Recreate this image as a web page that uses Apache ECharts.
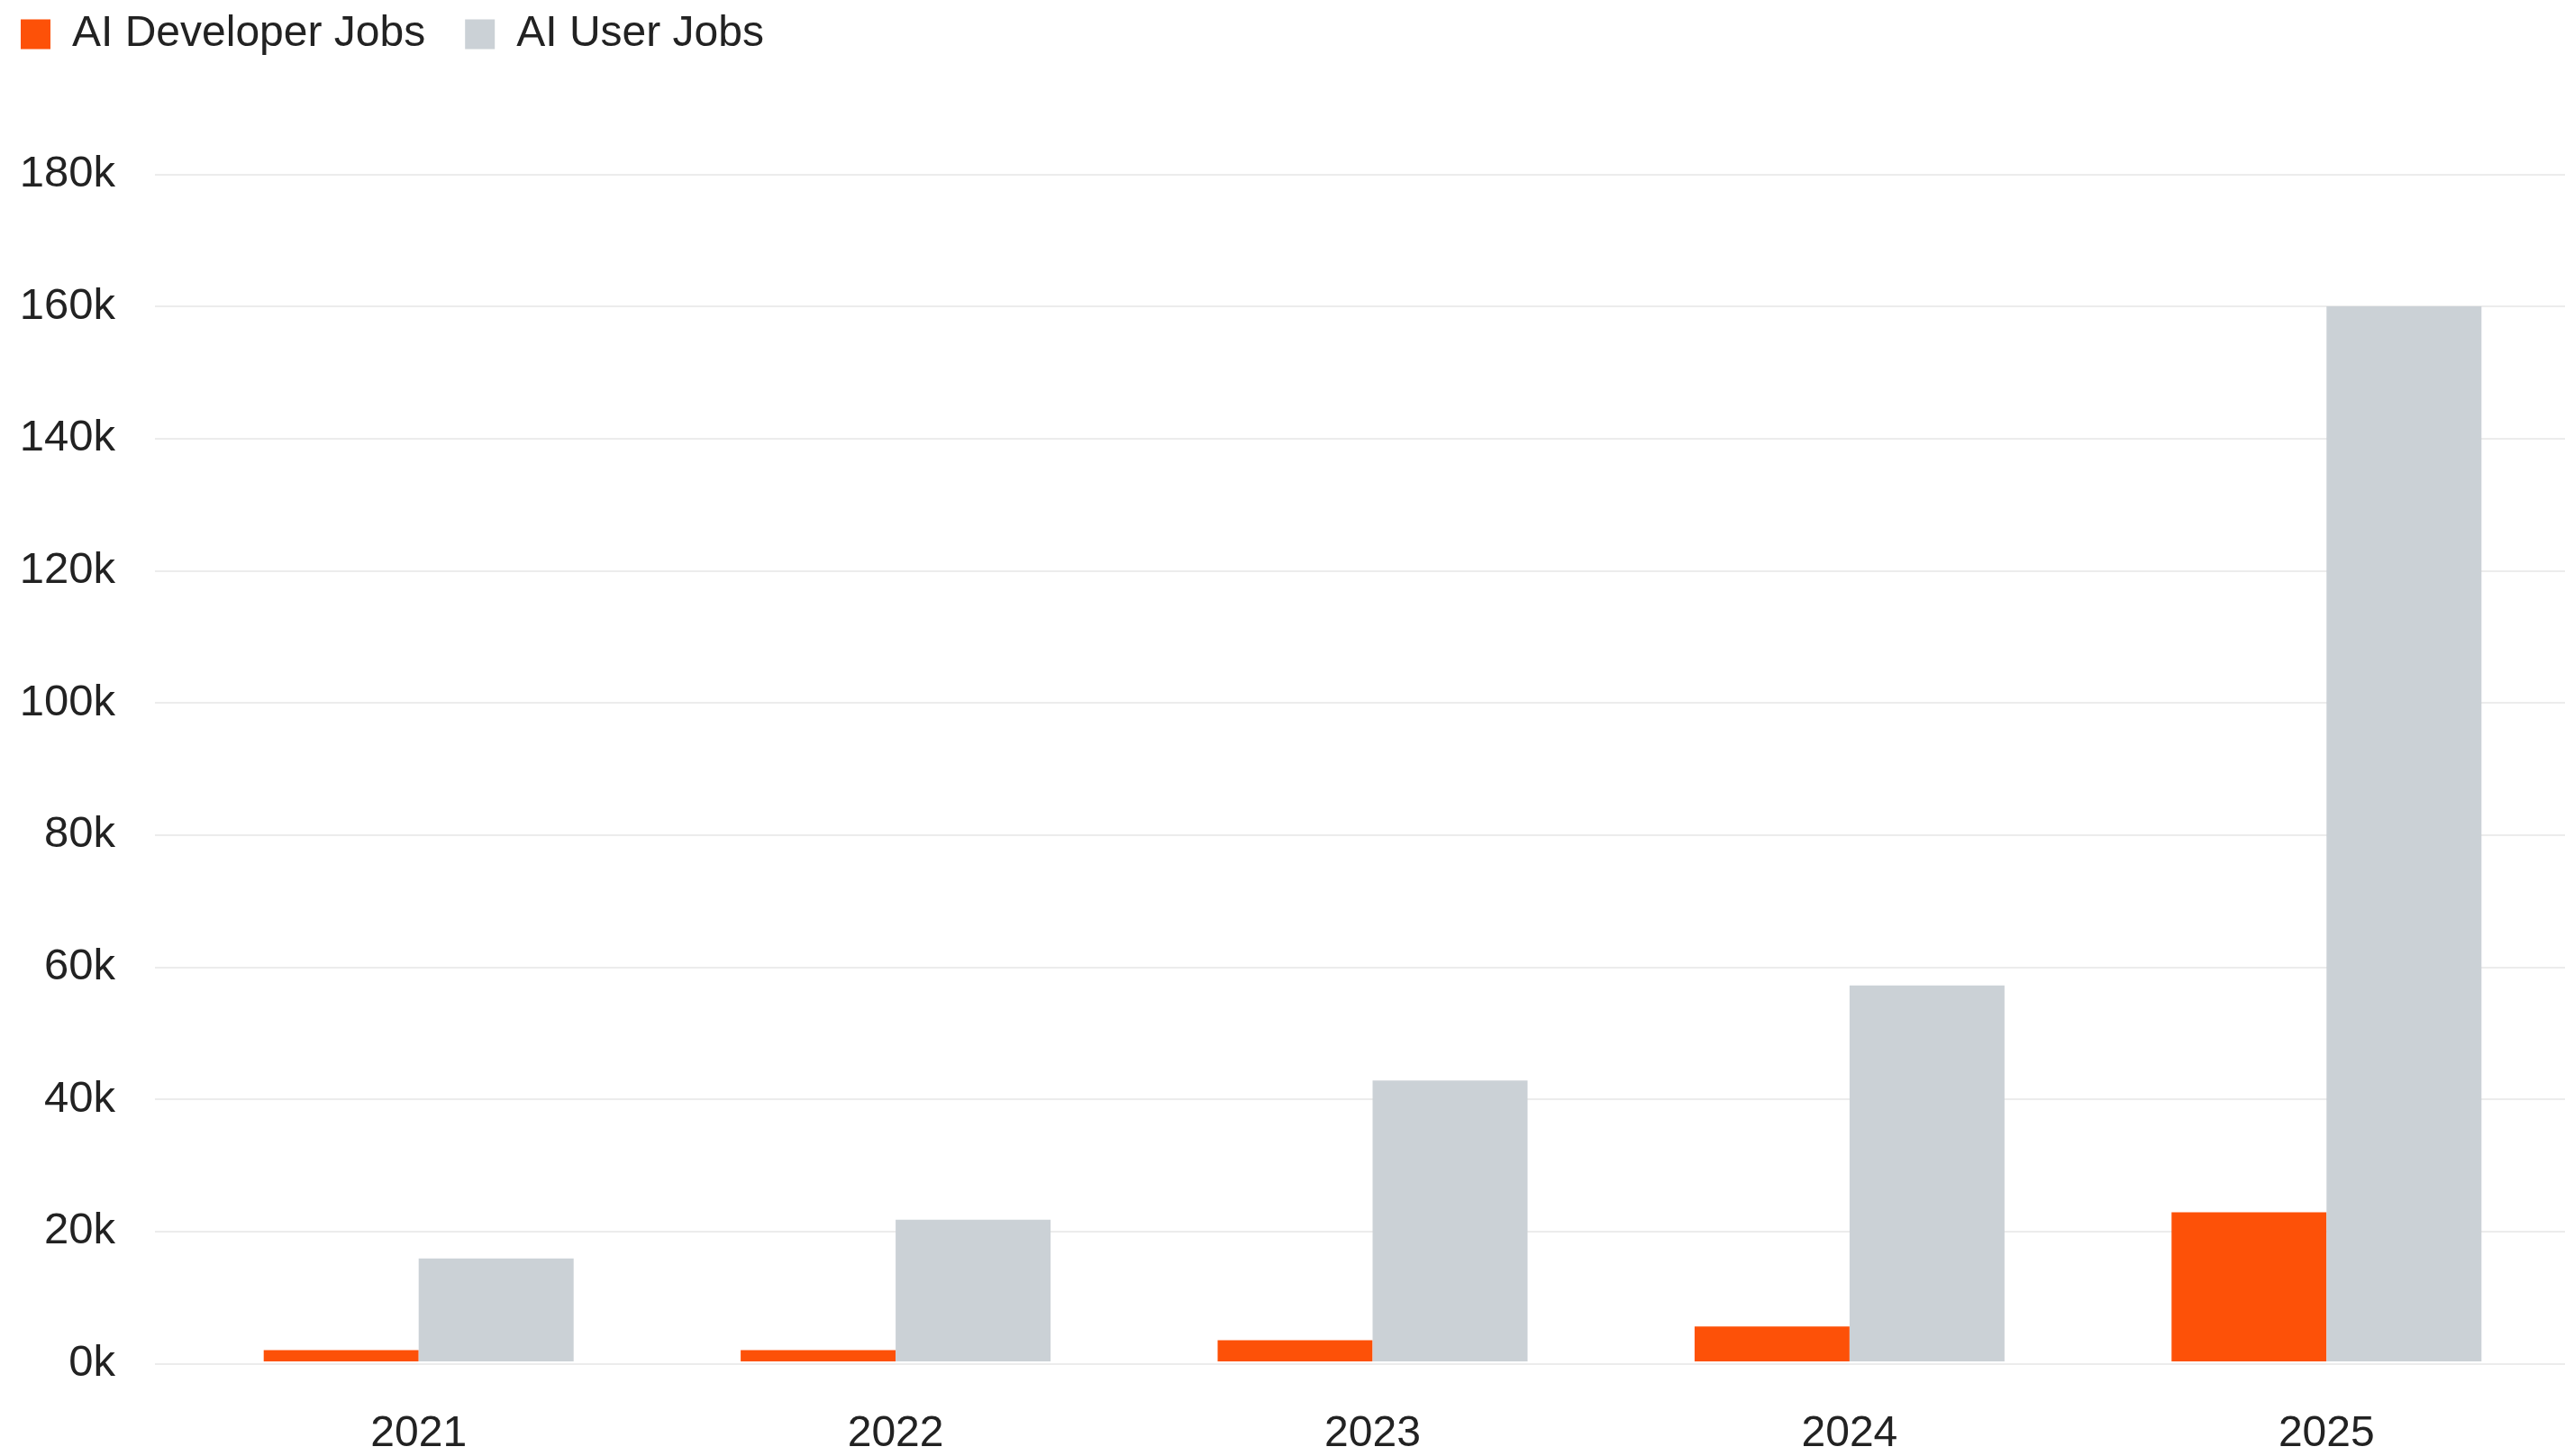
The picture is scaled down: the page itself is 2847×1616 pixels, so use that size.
<!DOCTYPE html>
<html>
<head>
<meta charset="utf-8">
<script src="https://cdn.jsdelivr.net/npm/echarts@6/dist/echarts.min.js"></script>
<style>
  html, body { margin: 0; padding: 0; background: #fff; }
  #chart { width: 2847px; height: 1616px; }
</style>
</head>
<body>
<div id="chart"></div>
<script>
const years = ['2021', '2022', '2023', '2024', '2025']
const developerJobs = [1700, 1700, 3200, 5300, 22600]
const userJobs = [15600, 21500, 42600, 57000, 160000]
const yTicks = [0, 20000, 40000, 60000, 80000, 100000, 120000, 140000, 160000, 180000]

const font = 'Liberation Sans'
const chart = echarts.init(document.getElementById('chart'))

chart.setOption({
  animation: false,
  textStyle: { fontFamily: font },
  legend: {
    left: 23,
    top: 14,
    padding: 0,
    itemWidth: 33,
    itemHeight: 33,
    itemGap: 44,
    icon: 'rect',
    textStyle: {
      fontSize: 48,
      color: '#222',
      padding: [0, 0, 0, 19],
    },
    data: ['AI Developer Jobs', 'AI User Jobs'],
  },
  grid: [
    // grid 0 only carries the y axis labels and gridlines
    { left: 172, right: 0, top: 193.5, bottom: 102.7 },
    // grid 1 holds the bars
    { left: 200, right: 0, top: 193.5, bottom: 102.7 },
  ],
  xAxis: [
    { gridIndex: 0, type: 'category', data: years, show: false },
    {
      gridIndex: 1,
      type: 'category',
      data: years,
      axisLine: { show: false },
      axisTick: { show: false },
      axisLabel: { fontSize: 48, color: '#222', margin: 57 },
    },
  ],
  yAxis: [
    {
      gridIndex: 0,
      type: 'value',
      min: yTicks[0],
      max: yTicks[yTicks.length - 1],
      interval: yTicks[1] - yTicks[0],
      axisLine: { show: false },
      axisTick: { show: false },
      splitLine: { lineStyle: { color: '#ececec', width: 2 } },
      axisLabel: {
        fontSize: 49,
        color: '#222',
        margin: 44,
        formatter: (v) => v / 1000 + 'k',
      },
    },
    {
      gridIndex: 1,
      type: 'value',
      min: yTicks[0],
      max: yTicks[yTicks.length - 1],
      interval: yTicks[1] - yTicks[0],
      show: false,
      splitLine: { show: false },
    },
  ],
  series: [
    {
      name: 'AI Developer Jobs',
      type: 'bar',
      xAxisIndex: 1,
      yAxisIndex: 1,
      data: developerJobs,
      barWidth: 172,
      barGap: '0%',
      itemStyle: { color: '#fd5108' },
    },
    {
      name: 'AI User Jobs',
      type: 'bar',
      xAxisIndex: 1,
      yAxisIndex: 1,
      data: userJobs,
      barWidth: 172,
      barGap: '0%',
      itemStyle: { color: '#cbd1d6' },
    },
  ],
})
</script>
</body>
</html>
